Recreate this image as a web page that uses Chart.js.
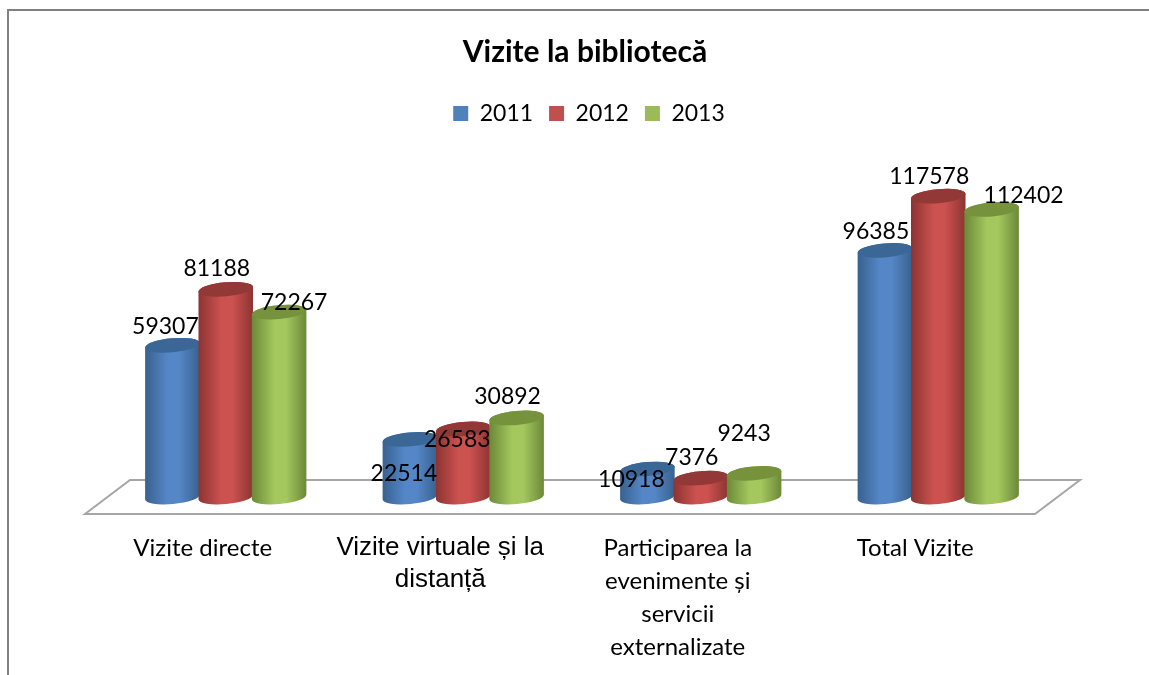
<!DOCTYPE html>
<html>
<head>
<meta charset="utf-8">
<style>html,body{margin:0;padding:0;background:#fff}canvas{display:block}</style>
<script src="https://cdn.jsdelivr.net/npm/chart.js@4"></script>
</head>
<body>
<canvas id="c" width="1149" height="675"></canvas>
<script>
const categories = [['Vizite directe'], ['Vizite virtuale și la', 'distanță'], ['Participarea la', 'evenimente și', 'servicii', 'externalizate'], ['Total Vizite']];
const years = ['2011', '2012', '2013'];
const values2011 = [59307, 22514, 10918, 96385];
const values2012 = [81188, 26583, 7376, 117578];
const values2013 = [72267, 30892, 9243, 112402];
const chartTitle = 'Vizite la bibliotecă';

const legendColors = ['#4F81BD', '#C0504D', '#9BBB59'];
const shades = [
  {edge: '#38618F', mid: '#5587C8', top: '#3A6796'},
  {edge: '#8C3432', mid: '#CC5250', top: '#923836'},
  {edge: '#6C8839', mid: '#A4C85E', top: '#76923C'}
];
// hand placement of each value label relative to its bar top [dx, dy], per series
const labelShift = [
  [[-7, -19], [-6, 34], [-16, 11], [-9, -19]],
  [[-9, -21], [-6, 11], [-9, -21], [-9, -20]],
  [[15, -10], [-9, -21], [-10, -40], [32, -14]]
];

const TILT = -0.09, RY = 7;
Chart.BarElement.prototype.draw = function (ctx) {
  const {x, y, base, width} = this.getProps(['x', 'y', 'base', 'width']);
  const rx = width / 2 + 0.7;
  const s = shades[legendColors.indexOf(this.options.backgroundColor)];
  const g = ctx.createLinearGradient(x - rx, 0, x + rx, 0);
  g.addColorStop(0, s.edge);
  g.addColorStop(0.42, s.mid);
  g.addColorStop(0.62, s.mid);
  g.addColorStop(1, s.edge);
  ctx.save();
  ctx.beginPath();
  ctx.ellipse(x, base, rx, RY, TILT, 0, Math.PI);
  ctx.ellipse(x, y, rx, RY, TILT, Math.PI, Math.PI * 2);
  ctx.closePath();
  ctx.fillStyle = g;
  ctx.fill();
  ctx.beginPath();
  ctx.ellipse(x, y, rx, RY, TILT, 0, Math.PI * 2);
  ctx.fillStyle = s.top;
  ctx.fill();
  ctx.restore();
};

const scene = {
  id: 'scene',
  afterLayout(chart) {
    chart.legend.left += 4;
    chart.legend.right += 4;
  },
  beforeDraw(chart) {
    const c = chart.ctx;
    c.save();
    c.strokeStyle = '#808080';
    c.lineWidth = 2;
    c.beginPath();
    c.moveTo(8, 675); c.lineTo(8, 10); c.lineTo(1149, 10);
    c.stroke();
    c.restore();
  },
  beforeDatasetsDraw(chart) {
    const c = chart.ctx, x = chart.scales.x, y0 = chart.scales.y.getPixelForValue(0);
    c.save();
    c.strokeStyle = '#A6A6A6';
    c.lineWidth = 2;
    c.beginPath();
    c.moveTo(x.left - 22, y0 + 17);
    c.lineTo(x.left + 23, y0 - 17);
    c.lineTo(x.right + 23, y0 - 17);
    c.lineTo(x.right - 22, y0 + 17);
    c.closePath();
    c.stroke();
    c.restore();
    // series 2011 first so later series overlap it; unclipped so the round bases show
    chart.getSortedVisibleDatasetMetas().forEach(m => m.controller.draw());
    return false;
  },
  afterDraw(chart) {
    const c = chart.ctx;
    c.save();
    c.font = '23px Lato';
    c.fillStyle = '#000';
    c.textAlign = 'center';
    c.textBaseline = 'middle';
    chart.data.datasets.forEach((ds, i) => {
      chart.getDatasetMeta(i).data.forEach((el, j) => {
        const s = labelShift[i][j];
        c.fillText(String(ds.data[j]), el.x + s[0], el.y + s[1]);
      });
    });
    c.restore();
  }
};

const seriesValues = [values2011, values2012, values2013];
new Chart(document.getElementById('c'), {
  type: 'bar',
  data: {
    labels: categories,
    datasets: years.map((yr, i) => ({
      label: yr,
      data: seriesValues[i],
      backgroundColor: legendColors[i],
      categoryPercentage: 0.674,
      barPercentage: 1
    }))
  },
  options: {
    responsive: false,
    animation: false,
    layout: {padding: {left: 107, right: 86, top: 34, bottom: 0}},
    plugins: {
      tooltip: {enabled: false},
      title: {
        display: true,
        text: chartTitle,
        color: '#000',
        font: {family: 'Lato', size: 30, weight: 'bold'},
        padding: {top: 0, bottom: 16}
      },
      legend: {
        position: 'top',
        labels: {
          boxWidth: 15,
          boxHeight: 15,
          color: '#000',
          padding: 16,
          font: {family: 'Lato', size: 23}
        }
      }
    },
    scales: {
      x: {
        grid: {display: false},
        border: {display: false},
        afterFit(s) { s.height = 178; },
        ticks: {
          autoSkip: false,
          maxRotation: 0,
          padding: 27,
          labelOffset: -23,
          color: '#000',
          font: ctx => ctx.index === 1
            ? {family: 'Liberation Sans', size: 26, lineHeight: 1.23}
            : {family: 'Lato', size: 24, lineHeight: 1.375}
        }
      },
      y: {
        position: 'right',
        min: 0,
        max: 141500,
        grid: {display: false},
        border: {display: false},
        ticks: {display: false},
        afterFit(s) { s.width = 6; }
      }
    }
  },
  plugins: [scene]
});
</script>
</body>
</html>
